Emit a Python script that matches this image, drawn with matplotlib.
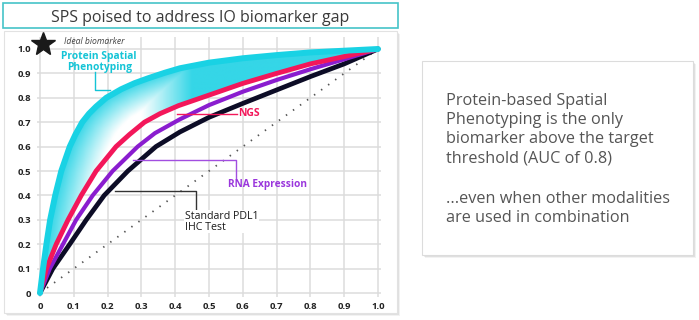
import matplotlib
matplotlib.use("Agg")
import matplotlib.pyplot as plt
import numpy as np
from matplotlib.colors import LinearSegmentedColormap
from matplotlib.patches import Rectangle, Polygon

plt.rcParams['font.family'] = ['Open Sans', 'DejaVu Sans']

# curve points (false positive rate, true positive rate)
sps_x = [0, 0.009, 0.019, 0.03, 0.045, 0.063, 0.088, 0.105, 0.125, 0.145, 0.166, 0.196, 0.24, 0.28, 0.32, 0.37, 0.414, 0.5, 0.6, 0.7, 0.8, 0.9, 1.0]
sps_y = [0, 0.1, 0.2, 0.3, 0.4, 0.5, 0.6, 0.65, 0.7, 0.735, 0.764, 0.8, 0.835, 0.86, 0.88, 0.903, 0.921, 0.944, 0.962, 0.975, 0.986, 0.993, 1.0]

ngs_x = [0, 0.019, 0.048, 0.083, 0.122, 0.166, 0.225, 0.265, 0.309, 0.355, 0.41, 0.5, 0.6, 0.7, 0.8, 0.9, 1.0]
ngs_y = [0, 0.1, 0.2, 0.3, 0.4, 0.5, 0.6, 0.65, 0.7, 0.735, 0.768, 0.811, 0.859, 0.9, 0.939, 0.969, 1.0]

rna_x = [0, 0.029, 0.068, 0.107, 0.156, 0.215, 0.289, 0.34, 0.414, 0.5, 0.6, 0.7, 0.8, 0.9, 1.0]
rna_y = [0, 0.1, 0.2, 0.3, 0.4, 0.5, 0.6, 0.655, 0.712, 0.77, 0.825, 0.873, 0.917, 0.958, 1.0]

ihc_x = [0, 0.038, 0.088, 0.137, 0.19, 0.26, 0.343, 0.414, 0.5, 0.6, 0.7, 0.8, 0.9, 1.0]
ihc_y = [0, 0.1, 0.2, 0.3, 0.4, 0.5, 0.6, 0.66, 0.72, 0.777, 0.832, 0.887, 0.939, 1.0]

ticks = [0, 0.1, 0.2, 0.3, 0.4, 0.5, 0.6, 0.7, 0.8, 0.9, 1.0]
tick_labels = ['0', '0.1', '0.2', '0.3', '0.4', '0.5', '0.6', '0.7', '0.8', '0.9', '1.0']

title = "SPS poised to address IO biomarker gap"
note_lines = ["Protein-based Spatial", "Phenotyping is the only", "biomarker above the target",
              "threshold (AUC of 0.8)", "", "...even when other modalities", "are used in combination"]

CYAN = '#19d2e4'
PINK = '#f3175a'
PURPLE = '#8a1dcf'
NAVY = '#0c0c26'

W, H = 699, 320
fig = plt.figure(figsize=(W / 100, H / 100), dpi=100)

# background layer in pixel coordinates
bg = fig.add_axes([0, 0, 1, 1], zorder=0)
bg.set_xlim(0, W)
bg.set_ylim(H, 0)
bg.axis('off')

# chart panel with soft shadow
for off, a in [(3, 0.05), (2, 0.07), (1, 0.09)]:
    bg.add_patch(Rectangle((4 + off, 31 + off), 393, 282, facecolor='#000000', alpha=a, edgecolor='none'))
bg.add_patch(Rectangle((4, 31), 393, 282, facecolor='white', edgecolor='#e2e2e2', lw=0.8))

# title box
bg.add_patch(Rectangle((3, 3), 395, 25, facecolor='white', edgecolor='#45c4c8', lw=1.2))
bg.text(200, 21.5, title, ha='center', va='baseline', fontsize=11.5, color='#3a3a3a')

# note box
for off, a in [(3, 0.05), (2, 0.07), (1, 0.09)]:
    bg.add_patch(Rectangle((422 + off, 61 + off), 271, 194, facecolor='#000000', alpha=a, edgecolor='none'))
bg.add_patch(Rectangle((422, 61), 271, 194, facecolor='white', edgecolor='#dcdcdc', lw=0.8))
baselines = [105, 124, 143, 162.5, 183, 203, 222.5]
for line, yb in zip(note_lines, baselines):
    bg.text(446, yb, line, ha='left', va='baseline', fontsize=11.7, color='#555555')

# chart axes: data 0 -> px 40, 1 -> px 378 ; y 0 -> px 293, 1 -> px 49
x0, x1 = 40, 378
y0, y1 = 293, 49
xlo, xhi = -0.01, 1.01
ylo, yhi = -0.015, 1.05
left = (x0 + xlo * (x1 - x0)) / W
right = (x0 + xhi * (x1 - x0)) / W
top = (y0 - yhi * (y0 - y1)) / H
bottom = (y0 - ylo * (y0 - y1)) / H
ax = fig.add_axes([left, 1 - bottom, right - left, bottom - top], zorder=1)
ax.set_facecolor('none')
ax.set_xlim(xlo, xhi)
ax.set_ylim(ylo, yhi)
for s in ax.spines.values():
    s.set_visible(False)
ax.set_xticks(ticks)
ax.set_yticks(ticks)
ax.set_xticklabels(tick_labels)
ax.set_yticklabels(tick_labels)
ax.tick_params(length=0, labelsize=6.8, colors='#222222', pad=4)
for lab in ax.get_xticklabels() + ax.get_yticklabels():
    lab.set_fontweight('bold')
ax.grid(True, color='#dcdcdc', lw=1.1)
ax.set_axisbelow(True)

# diagonal reference
ax.plot([0, 1], [0, 1], color='#555555', lw=1.3, linestyle=(0, (0.8, 4)), zorder=2)

# gradient band between SPS and NGS curves: cyan near the SPS curve, white further in
band = np.column_stack([np.r_[sps_x, ngs_x[::-1]], np.r_[sps_y, ngs_y[::-1]]])
poly = Polygon(band, closed=True, facecolor='none', edgecolor='none')
ax.add_patch(poly)
gx, gy = np.meshgrid(np.linspace(0, 1, 300), np.linspace(0, 1, 300))
px, py = np.array(sps_x), np.array(sps_y)
dist = np.full(gx.shape, np.inf)
for i in range(len(px) - 1):
    ax_, ay_ = px[i], py[i]
    dx, dy = px[i + 1] - ax_, py[i + 1] - ay_
    t = np.clip(((gx - ax_) * dx + (gy - ay_) * dy) / (dx * dx + dy * dy), 0, 1)
    d = np.hypot(gx - (ax_ + t * dx), gy - (ay_ + t * dy))
    dist = np.minimum(dist, d)
v = np.maximum(1 - dist / 0.11, (gx - 0.3) / 0.15)
v = np.clip(v, 0, 1)
cmap = LinearSegmentedColormap.from_list('band', ['#ffffff', '#35d6e7'])
im = ax.imshow(v, extent=[0, 1, 0, 1], origin='lower', cmap=cmap, aspect='auto', zorder=3, vmin=0, vmax=1)
im.set_clip_path(poly)

ax.plot(ihc_x, ihc_y, color=NAVY, lw=3.4, solid_capstyle='round', solid_joinstyle='round', zorder=4)
ax.plot(rna_x, rna_y, color=PURPLE, lw=3.0, solid_capstyle='round', solid_joinstyle='round', zorder=5)
ax.plot(ngs_x, ngs_y, color=PINK, lw=3.5, solid_capstyle='round', solid_joinstyle='round', zorder=6)
ax.plot(sps_x, sps_y, color=CYAN, lw=4.3, solid_capstyle='round', solid_joinstyle='round', zorder=7)

# ideal biomarker star
ax.plot(0.008, 1.022, marker='*', ms=18, color='#1a1a1a', clip_on=False, zorder=8)
ax.text(0.07, 1.029, 'Ideal biomarker', fontsize=6.2, style='italic', color='#444444', va='center', ha='left')

# labels with leader lines
ax.text(0.175, 0.947, 'Protein Spatial\nPhenotyping', color='#14c4d6', fontsize=7.4, fontweight='bold',
        ha='center', va='center', linespacing=1.0, zorder=9)
ax.plot([0.163, 0.163, 0.207], [0.906, 0.832, 0.832], color='#14c4d6', lw=1.0, zorder=8)

ax.plot([0.405, 0.583], [0.734, 0.734], color=PINK, lw=1.0, zorder=8)
ax.text(0.586, 0.734, 'NGS', color=PINK, fontsize=7.5, fontweight='bold', ha='left', va='center', zorder=9)

ax.plot([0.275, 0.58, 0.58], [0.545, 0.545, 0.471], color='#a24ee0', lw=1.0, zorder=8)
ax.text(0.672, 0.443, 'RNA Expression', color='#9a36dc', fontsize=7.3, fontweight='bold',
        ha='center', va='center', zorder=9)

ax.plot([0.222, 0.462, 0.462], [0.418, 0.418, 0.34], color='#333333', lw=1.0, zorder=8)
ax.text(0.429, 0.293, 'Standard PDL1\nIHC Test', color='#1a1a1a', fontsize=7.7, ha='left', va='center',
        linespacing=1.0, zorder=9, bbox=dict(facecolor='white', edgecolor='none', pad=0.5))

fig.savefig('out.png', dpi=100)
